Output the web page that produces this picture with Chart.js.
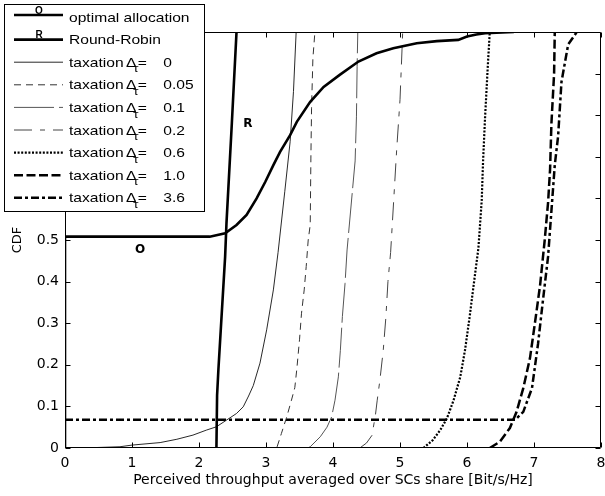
<!DOCTYPE html>
<html><head><meta charset="utf-8">
<script src="https://cdn.jsdelivr.net/npm/chart.js@4"></script>
<style>html,body{margin:0;padding:0;background:#fff}#wrap{width:605px;height:496px;position:relative}</style>
</head><body><div id="wrap"><canvas id="c"></canvas></div>
<script>
// ---------- data ----------
const optX = [0, 0, 2.16, 2.39, 2.56, 2.71, 2.86, 2.99, 3.11, 3.21, 3.36, 3.46, 3.66, 3.86, 4.10, 4.38, 4.65, 4.90, 5.25, 5.55, 5.87, 6.0, 6.14, 6.27, 6.7];
const optY = [0, 0.508, 0.508, 0.516, 0.536, 0.56, 0.60, 0.64, 0.68, 0.712, 0.752, 0.784, 0.832, 0.868, 0.897, 0.929, 0.949, 0.961, 0.973, 0.978, 0.981, 0.989, 0.994, 0.997, 1.0];
const rrX = [2.26, 2.27, 2.29, 2.39, 2.41, 2.49, 2.56];
const rrY = [0, 0.127, 0.19, 0.46, 0.54, 0.78, 1.0];
const tax0X = [0.25, 0.82, 1.0, 1.42, 1.67, 1.91, 2.11, 2.26, 2.41, 2.56, 2.66, 2.74, 2.81, 2.91, 3.01, 3.11, 3.18, 3.28, 3.36, 3.41, 3.45];
const tax0Y = [0, 0.003, 0.007, 0.013, 0.021, 0.031, 0.043, 0.051, 0.067, 0.083, 0.099, 0.125, 0.15, 0.204, 0.284, 0.38, 0.47, 0.616, 0.736, 0.857, 1.0];
const tax005X = [2.64, 3.16, 3.23, 3.31, 3.38, 3.43, 3.46, 3.50, 3.53, 3.57, 3.60, 3.63, 3.66, 3.67, 3.68, 3.70, 3.73];
const tax005Y = [0, 0, 0.035, 0.075, 0.115, 0.145, 0.19, 0.26, 0.324, 0.38, 0.436, 0.5, 0.536, 0.697, 0.817, 0.937, 1.0];
const tax01X = [3.62, 3.66, 3.81, 3.91, 3.98, 4.03, 4.08, 4.11, 4.14, 4.18, 4.21, 4.33, 4.35, 4.36, 4.37];
const tax01Y = [0, 0.003, 0.027, 0.05, 0.075, 0.115, 0.171, 0.235, 0.316, 0.396, 0.476, 0.69, 0.796, 0.917, 1.0];
const tax02X = [4.40, 4.50, 4.58, 4.63, 4.66, 4.70, 4.75, 4.79, 4.82, 4.86, 4.95, 5.0, 5.03, 5.04];
const tax02Y = [0, 0.012, 0.03, 0.075, 0.115, 0.163, 0.235, 0.316, 0.40, 0.47, 0.716, 0.837, 0.957, 1.0];
const tax06X = [5.35, 5.49, 5.60, 5.70, 5.80, 5.90, 5.97, 6.04, 6.09, 6.17, 6.22, 6.24, 6.27, 6.31, 6.34];
const tax06Y = [0, 0.019, 0.043, 0.071, 0.115, 0.171, 0.235, 0.316, 0.38, 0.48, 0.596, 0.69, 0.796, 0.917, 1.0];
const tax10X = [6.34, 6.49, 6.64, 6.74, 6.84, 6.94, 7.01, 7.09, 7.16, 7.21, 7.24, 7.26, 7.30, 7.31];
const tax10Y = [0, 0.015, 0.048, 0.087, 0.144, 0.216, 0.296, 0.39, 0.50, 0.59, 0.67, 0.78, 0.90, 1.0];
const tax36X = [0, 6.72, 6.84, 6.97, 7.06, 7.13, 7.21, 7.26, 7.31, 7.36, 7.41, 7.51, 7.64];
const tax36Y = [0.068, 0.068, 0.087, 0.144, 0.25, 0.35, 0.46, 0.57, 0.68, 0.75, 0.88, 0.97, 1.0];

const taxLevels = ['0', '0.05', '0.1', '0.2', '0.6', '1.0', '3.6'];
const seriesNames = ['optimal allocation', 'Round-Robin'].concat(taxLevels.map(v => 'taxation \u0394\u03C4= ' + v));
const seriesMarks = ['O', 'R', '', '', '', '', '', '', ''];
const xTicks = [0, 1, 2, 3, 4, 5, 6, 7, 8];
const yTicks = [0, 0.1, 0.2, 0.3, 0.4, 0.5, 0.6, 0.7, 0.8, 0.9, 1];
const curveLabels = ['O', 'R'];
const curveLabelX = [1.12, 2.73];
const curveLabelY = [0.476, 0.78];
const xTitle = 'Perceived throughput averaged over SCs share [Bit/s/Hz]';
const yTitle = 'CDF';

// ---------- styles ----------
const styles = [
  {c: '#000', w: 2.6, d: []},
  {c: '#000', w: 2.6, d: []},
  {c: '#111', w: 0.9, d: []},
  {c: '#333', w: 1, d: [7, 5]},
  {c: '#555', w: 1, d: [40, 5]},
  {c: '#444', w: 1, d: [18, 8, 5, 8]},
  {c: '#000', w: 2.2, d: [2, 1.6]},
  {c: '#000', w: 2.5, d: [9, 3.5]},
  {c: '#000', w: 2.5, d: [8, 3, 3, 3]}
];
const xs = [optX, rrX, tax0X, tax005X, tax01X, tax02X, tax06X, tax10X, tax36X];
const ys = [optY, rrY, tax0Y, tax005Y, tax01Y, tax02Y, tax06Y, tax10Y, tax36Y];

const datasets = xs.map((xa, i) => ({
  label: seriesNames[i],
  data: xa.map((x, k) => ({x: x, y: ys[i][k]})),
  showLine: true,
  borderColor: styles[i].c,
  backgroundColor: styles[i].c,
  borderWidth: styles[i].w,
  borderDash: styles[i].d,
  pointRadius: 0,
  pointHoverRadius: 0,
  tension: 0,
  fill: false
}));

const FONT = '"DejaVu Sans", sans-serif';
const LFONT = '"Liberation Sans", Arial, sans-serif';

const boxPlugin = {
  id: 'matlabBox',
  afterDatasetsDraw(chart) {
    const {ctx, chartArea: a, scales: {x, y}} = chart;
    ctx.save();
    ctx.strokeStyle = '#000';
    ctx.lineWidth = 1;
    ctx.setLineDash([]);
    ctx.beginPath();
    const L = Math.round(a.left) + 0.5, R = Math.round(a.right) - 0.5;
    const T = Math.round(a.top) + 0.5, B = Math.round(a.bottom) - 0.5;
    ctx.rect(L, T, R - L, B - T);
    const tl = 5;
    xTicks.forEach(v => {
      const px = Math.round(x.getPixelForValue(v)) + 0.5;
      ctx.moveTo(px, B); ctx.lineTo(px, B - tl);
      ctx.moveTo(px, T); ctx.lineTo(px, T + tl);
    });
    yTicks.forEach(v => {
      const py = Math.round(y.getPixelForValue(v)) + 0.5;
      ctx.moveTo(L, py); ctx.lineTo(L + tl, py);
      ctx.moveTo(R, py); ctx.lineTo(R - tl, py);
    });
    ctx.stroke();
    // curve labels
    ctx.fillStyle = '#000';
    ctx.font = 'bold 12px ' + FONT;
    ctx.textAlign = 'center';
    ctx.textBaseline = 'middle';
    curveLabels.forEach((t, i) => {
      ctx.fillText(t, x.getPixelForValue(curveLabelX[i]), y.getPixelForValue(curveLabelY[i]));
    });
    ctx.restore();
  },
  afterDraw(chart) {
    const ctx = chart.ctx;
    ctx.save();
    ctx.fillStyle = '#fff';
    ctx.fillRect(4, 4, 200, 207);
    ctx.strokeStyle = '#000';
    ctx.lineWidth = 1;
    ctx.setLineDash([]);
    ctx.strokeRect(4.5, 4.5, 200, 207);
    const rowY0 = 17, rowStep = 22.6;
    chart.data.datasets.forEach((ds, i) => {
      const yc = rowY0 + i * rowStep;
      const ly = i === 0 ? yc - 2 : yc;
      ctx.beginPath();
      ctx.setLineDash(ds.borderDash);
      ctx.lineWidth = ds.borderWidth;
      ctx.strokeStyle = ds.borderColor;
      ctx.moveTo(14, ly); ctx.lineTo(63, ly);
      ctx.stroke();
      ctx.setLineDash([]);
      ctx.fillStyle = '#000';
      if (seriesMarks[i]) {
        ctx.font = 'bold 10px ' + LFONT;
        ctx.textAlign = 'center';
        ctx.textBaseline = 'alphabetic';
        ctx.fillText(seriesMarks[i], 39, ly - 1.5);
      }
      ctx.save();
      ctx.translate(69, yc + 4.6);
      ctx.scale(1.2, 1);
      ctx.textAlign = 'left';
      ctx.textBaseline = 'alphabetic';
      ctx.font = '13px ' + LFONT;
      if (i < 2) {
        ctx.fillText(seriesNames[i], 0, 0);
      } else {
        ctx.fillText('taxation', 0, 0);
        ctx.fillText('\u0394', 47.5, 0);
        ctx.font = '11px ' + LFONT;
        ctx.fillText('\u03C4', 53.6, 5.5);
        ctx.font = '13px ' + LFONT;
        ctx.fillText('=', 57.2, 0);
        ctx.fillText(taxLevels[i - 2], 78.6, 0);
      }
      ctx.restore();
    });
    ctx.restore();
  }
};

new Chart(document.getElementById('c'), {
  type: 'scatter',
  data: {datasets: datasets},
  options: {
    responsive: true,
    maintainAspectRatio: false,
    animation: false,
    events: [],
    layout: {padding: {top: 32, right: 4, left: 0, bottom: 0}},
    plugins: {legend: {display: false}, tooltip: {enabled: false}, title: {display: false}},
    scales: {
      x: {
        type: 'linear', min: 0, max: 8,
        afterBuildTicks: s => { s.ticks = xTicks.map(v => ({value: v})); },
        afterFit: s => { s.height = 48; s.paddingLeft = 0; s.paddingRight = 0; },
        grid: {display: false, drawTicks: false},
        border: {display: false},
        ticks: {padding: 7, color: '#000', font: {family: FONT, size: 14}, maxRotation: 0, autoSkip: false,
                callback: v => String(v)},
        title: {display: true, text: xTitle, color: '#000', font: {family: FONT, size: 14}, padding: {top: 0, bottom: 7}}
      },
      y: {
        type: 'linear', min: 0, max: 1,
        afterBuildTicks: s => { s.ticks = yTicks.map(v => ({value: v})); },
        afterFit: s => { s.width = 65; s.paddingTop = 0; s.paddingBottom = 0; },
        grid: {display: false, drawTicks: false},
        border: {display: false},
        ticks: {padding: 6, color: '#000', font: {family: FONT, size: 14}, autoSkip: false,
                callback: v => String(Math.round(v * 10) / 10)},
        title: {display: true, text: yTitle, color: '#000', font: {family: FONT, size: 13}, padding: {top: 10, bottom: 0}}
      }
    }
  },
  plugins: [boxPlugin]
});
</script>
</body></html>
